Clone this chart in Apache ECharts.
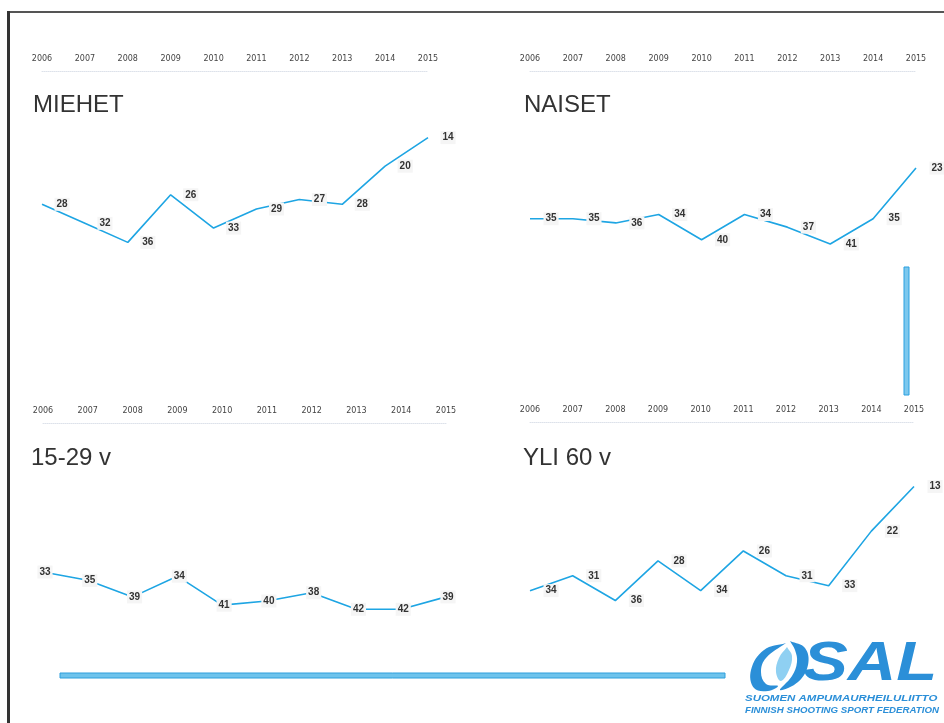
<!DOCTYPE html>
<html>
<head>
<meta charset="utf-8">
<script src="https://cdn.jsdelivr.net/npm/echarts@6/dist/echarts.min.js"></script>
<style>
html,body{margin:0;padding:0;background:#fff;}
#c{width:944px;height:723px;}
</style>
</head>
<body>
<div id="c"></div>
<script>
const years = ['2006','2007','2008','2009','2010','2011','2012','2013','2014','2015'];
const miehet = [28,32,36,26,33,29,27,28,20,14];
const naiset = [35,35,36,34,40,34,37,41,35,23];
const nuoret = [33,35,39,34,41,40,38,42,42,39];
const yli60 = [34,31,36,28,34,26,31,33,22,13];
const titles = ['MIEHET','NAISET','15-29 v','YLI 60 v'];

const chart = echarts.init(document.getElementById('c'));
const lineColor = '#1ea5e3';
const grids = [
  {left:42, width:386, top:71, height:238},
  {left:530, width:386, top:71, height:211},
  {left:43, width:403, top:423, height:207},
  {left:530, width:384, top:422, height:248}
];
const yRanges = [[0,50],[0,50],[-3,47],[0,50]];
const datas = [miehet, naiset, nuoret, yli60];
const labelPos = ['right','right','inside','right'];
const labelOff = [[7,0],[8,0],[2,0],[8,0]];
const titlePos = [[33,93],[524,93],[31,446],[523,446]];
const logoBlue = '#2b8fd8';

const option = {
  animation:false,
  backgroundColor:'#fff',
  grid: grids.map(g=>Object.assign({containLabel:false}, g)),
  xAxis: grids.map((g,i)=>({
    type:'category', gridIndex:i, data:years, position:'top', boundaryGap:false,
    axisLine:{show:true, onZero:false, lineStyle:{color:'#dde2ea', type:'dotted', width:1}},
    axisTick:{show:false},
    axisLabel:{fontSize:8, color:'#444', fontFamily:'DejaVu Sans', margin:8}
  })),
  yAxis: grids.map((g,i)=>({
    type:'value', gridIndex:i, inverse:true, min:yRanges[i][0], max:yRanges[i][1],
    show:false, splitLine:{show:false}
  })),
  series: datas.map((d,i)=>({
    type:'line', xAxisIndex:i, yAxisIndex:i, data:d,
    symbol:'circle', symbolSize:1, showSymbol:true,
    itemStyle:{color:'rgba(0,0,0,0)'},
    lineStyle:{color:lineColor, width:1.6},
    label:{show:true, position:labelPos[i], offset:labelOff[i], fontSize:10, fontWeight:'bold',
      color:'#333', fontFamily:'Liberation Sans', backgroundColor:'#f5f5f5', padding:[2,2,1,2]},
    z:3
  })),
  graphic: [
    {type:'rect', shape:{x:8,y:11,width:936,height:2}, style:{fill:'#555'}},
    {type:'rect', shape:{x:7,y:11,width:3,height:712}, style:{fill:'#333'}},
    ...titles.map((t,i)=>({type:'text', x:titlePos[i][0], y:titlePos[i][1],
      style:{text:t, fontSize:24, fill:'#333', fontFamily:'Liberation Sans'}})),
    {type:'rect', shape:{x:60,y:673,width:665,height:5}, style:{fill:'#6ec3ec', stroke:'#2f9fdc', lineWidth:1}},
    {type:'rect', shape:{x:904,y:267,width:5,height:128}, style:{fill:'#7cc8ee', stroke:'#2aa0e0', lineWidth:1}},
    {type:'polygon', shape:{smooth:0.4, points:[[786,643],[764,650],[751,670],[754,688],[768,691],[778,686],[766,684],[761,672],[766,658],[786,643]]}, style:{fill:logoBlue}},
    {type:'polygon', shape:{smooth:0.4, points:[[790,641],[805,648],[808,665],[798,682],[780,690],[792,676],[797,662],[795,650],[790,641]]}, style:{fill:logoBlue}},
    {type:'polygon', shape:{smooth:0.4, points:[[787,647],[779,658],[776,672],[781,681],[789,670],[792,656],[787,647]]}, style:{fill:'#8fd0f2'}},
    {type:'text', x:803, y:637, scaleX:1.2, style:{text:'SAL', fontSize:56, fontWeight:'bold', fontStyle:'italic', fill:logoBlue, fontFamily:'Liberation Sans'}},
    {type:'text', x:745, y:694, scaleX:1.35, style:{text:'SUOMEN AMPUMAURHEILULIITTO', fontSize:8.5, fontWeight:'bold', fontStyle:'italic', fill:logoBlue, fontFamily:'Liberation Sans'}},
    {type:'text', x:745, y:706, scaleX:1.14, style:{text:'FINNISH SHOOTING SPORT FEDERATION', fontSize:8.5, fontWeight:'bold', fontStyle:'italic', fill:logoBlue, fontFamily:'Liberation Sans'}}
  ]
};
chart.setOption(option);
</script>
</body>
</html>
